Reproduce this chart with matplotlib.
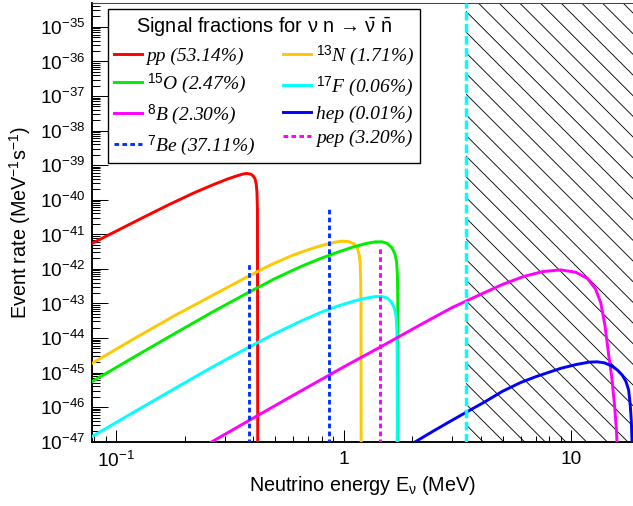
import numpy as np
import matplotlib
matplotlib.use("Agg")
import matplotlib.pyplot as plt
from matplotlib.font_manager import FontProperties
from matplotlib.ticker import LogLocator, FixedLocator, FixedFormatter, NullFormatter

# values: energy in MeV, rate in MeV^-1 s^-1
pp_E = [0.0785, 0.10, 0.13, 0.17, 0.22, 0.27, 0.31, 0.34, 0.36, 0.375, 0.39,
        0.40, 0.408, 0.413, 0.416, 0.418, 0.4195]
pp_R = [5.5e-42, 1.23e-41, 2.95e-41, 7.1e-41, 1.58e-40, 2.8e-40, 4.0e-40, 4.9e-40,
        5.5e-40, 5.75e-40, 5.5e-40, 4.9e-40, 4.0e-40, 2.8e-40, 1.6e-40, 5e-41, 1e-49]

n13_E = [0.0785, 0.12, 0.18, 0.27, 0.38, 0.48, 0.60, 0.75, 0.87, 0.97, 1.05, 1.11,
         1.15, 1.172, 1.182, 1.188, 1.192, 1.195]
n13_R = [1.86e-45, 9.55e-45, 4.37e-44, 1.82e-43, 6.03e-43, 1.32e-42, 2.51e-42, 4.17e-42,
         5.5e-42, 6.31e-42, 6.17e-42, 5.25e-42, 3.98e-42, 2.4e-42, 1.41e-42, 5.0e-43,
         1.0e-43, 1e-49]

o15_E = [0.0785, 0.12, 0.18, 0.27, 0.38, 0.50, 0.65, 0.80, 0.95, 1.10, 1.25, 1.38,
         1.48, 1.56, 1.63, 1.68, 1.71, 1.724, 1.73, 1.733]
o15_R = [5.5e-46, 2.82e-45, 1.32e-44, 6.03e-44, 2.04e-43, 5.25e-43, 1.17e-42, 2.04e-42,
         3.09e-42, 4.27e-42, 5.37e-42, 6.03e-42, 6.03e-42, 5.37e-42, 4.07e-42, 2.75e-42,
         1.58e-42, 6.3e-43, 1.26e-43, 1e-49]

f17_E = [0.0785, 0.12, 0.18, 0.27, 0.38, 0.50, 0.65, 0.80, 0.95, 1.10, 1.25, 1.38,
         1.48, 1.56, 1.62, 1.67, 1.70, 1.713, 1.719, 1.722]
f17_R = [1.41e-47, 7.24e-47, 3.39e-46, 1.55e-45, 5.25e-45, 1.35e-44, 3.09e-44, 5.62e-44,
         8.51e-44, 1.15e-43, 1.41e-43, 1.58e-43, 1.58e-43, 1.41e-43, 1.10e-43, 7.41e-44,
         4.37e-44, 1.78e-44, 3.98e-45, 1e-49]

b8_E = [0.25, 0.40, 0.65, 1.0, 1.5, 2.2, 3.0, 4.0, 5.0, 6.2, 7.5, 9.0, 10.5, 11.8,
        12.8, 13.5, 14.1, 14.6, 15.1, 15.5, 15.8, 16.0]
b8_R = [8.13e-48, 4.79e-47, 2.95e-46, 1.45e-45, 6.17e-45, 2.51e-44, 7.59e-44, 1.82e-43,
        3.55e-43, 6.03e-43, 8.32e-43, 9.33e-43, 7.94e-43, 5.25e-43, 2.63e-43, 1.05e-43,
        2.24e-44, 3.55e-45, 7.08e-46, 1.26e-46, 2.51e-47, 5.0e-48]

hep_E = [2.0, 2.5, 3.0, 3.5, 4.2, 5.0, 6.0, 7.0, 8.0, 9.0, 10.5, 12.0, 13.0, 14.0,
         15.0, 16.0, 16.8, 17.4, 17.9, 18.2, 18.4, 18.55]
hep_R = [8.71e-48, 2.09e-47, 4.17e-47, 7.41e-47, 1.45e-46, 2.88e-46, 5.13e-46, 7.59e-46,
         1.02e-45, 1.32e-45, 1.70e-45, 2.0e-45, 2.04e-45, 1.91e-45, 1.58e-45, 1.17e-45,
         8.32e-46, 5.62e-46, 3.16e-46, 1.15e-46, 3.98e-47, 7.94e-48]

# mono-energetic lines
be7_E = [0.384, 0.862]
be7_R = [1.5e-42, 5.7e-41]
pep_E = [1.442]
pep_R = [4.4e-42]

threshold_E = 3.46

fractions = {"pp": 53.14, "15O": 2.47, "8B": 2.30, "7Be": 37.11,
             "13N": 1.71, "17F": 0.06, "hep": 0.01, "pep": 3.20}

xticks = [0.1, 1, 10]
xtick_labels = [r"$\mathdefault{10^{-1}}$", "1", "10"]
yticks = [10.0 ** k for k in range(-47, -34)]

# ---- style
plt.rcParams["font.family"] = ["Liberation Sans", "DejaVu Sans"]
plt.rcParams["mathtext.fontset"] = "custom"
plt.rcParams["mathtext.rm"] = "Liberation Sans"
plt.rcParams["mathtext.it"] = "Liberation Serif:italic"
plt.rcParams["hatch.linewidth"] = 0.5
plt.rcParams["lines.scale_dashes"] = False

DPI = 124
fig = plt.figure(figsize=(633.3 / DPI, 506.3 / DPI), dpi=DPI)
ax = fig.add_axes([92 / 633, (506 - 441.7) / 506, (633 - 92) / 633, (441.7 - 3) / 506])
ax.set_xscale("log")
ax.set_yscale("log")
xmin, xmax = 0.07835, 18.77
ax.set_xlim(xmin, xmax)
ax.set_ylim(1e-47, 5e-35)

# hatched region above threshold
ax.axvspan(threshold_E, xmax, facecolor="none", edgecolor="k", hatch="\\\\", lw=0, zorder=1)

lw = 1.7
h_pp, = ax.plot(pp_E, pp_R, color="#ff0000", lw=lw, zorder=3,
                label="pp (%.2f%%)" % fractions["pp"])
h_n13, = ax.plot(n13_E, n13_R, color="#ffc800", lw=lw, zorder=3,
                 label=r"$^{\mathit{13}}$N (%.2f%%)" % fractions["13N"])
h_o15, = ax.plot(o15_E, o15_R, color="#00ee00", lw=lw, zorder=3,
                 label=r"$^{\mathit{15}}$O (%.2f%%)" % fractions["15O"])
h_f17, = ax.plot(f17_E, f17_R, color="#00ffff", lw=lw, zorder=3,
                 label=r"$^{\mathit{17}}$F (%.2f%%)" % fractions["17F"])
h_b8, = ax.plot(b8_E, b8_R, color="#ff00ff", lw=lw, zorder=3,
                label=r"$^{\mathit{8}}$B (%.2f%%)" % fractions["8B"])
h_hep, = ax.plot(hep_E, hep_R, color="#0000ff", lw=lw, zorder=3,
                 label="hep (%.2f%%)" % fractions["hep"])

dash = (0, (2.7, 1.9))
h_be7 = ax.vlines(be7_E, 1e-49, be7_R, colors="#0033ff", lw=lw, linestyles=dash, zorder=3,
                  label=r"$^{\mathit{7}}$Be (%.2f%%)" % fractions["7Be"])
h_pep = ax.vlines(pep_E, 1e-49, pep_R, colors="#ff00ff", lw=lw, linestyles=dash, zorder=3,
                  label="pep (%.2f%%)" % fractions["pep"])

ax.axvline(threshold_E, color="#00ffff", lw=2.0, ls=(0, (5.0, 2.0)), zorder=4)

# ---- axes
ax.xaxis.set_major_locator(FixedLocator(xticks))
ax.xaxis.set_major_formatter(FixedFormatter(xtick_labels))
ax.xaxis.set_minor_locator(LogLocator(base=10, subs=np.arange(2, 10), numticks=50))
ax.xaxis.set_minor_formatter(NullFormatter())
ax.yaxis.set_major_locator(FixedLocator(yticks))
ax.yaxis.set_minor_locator(LogLocator(base=10, subs=np.arange(2, 10), numticks=300))
ax.yaxis.set_minor_formatter(NullFormatter())

ax.tick_params(which="both", direction="in", top=False, right=False, width=0.6,
               labelsize=11)
ax.tick_params(axis="y", which="major", length=9.3, pad=4)
ax.tick_params(axis="y", which="minor", length=4.6)
ax.tick_params(axis="x", which="major", length=7, pad=5)
ax.tick_params(axis="x", which="minor", length=3.5)

for s in ["left", "bottom"]:
    ax.spines[s].set_linewidth(1.1)
ax.spines["top"].set_linewidth(0.6)
ax.spines["top"].set_color("#444444")
ax.spines["right"].set_visible(False)

ax.set_xlabel(r"Neutrino energy E$_{\mathrm{\nu}}$ (MeV)", fontsize=11.5, va="center")
ax.set_ylabel(r"Event rate (MeV$^{-1}$s$^{-1}$)", fontsize=11.5, va="center")
ax.xaxis.set_label_coords(0.5, -0.0987)
ax.yaxis.set_label_coords(-0.133, 0.5)

title = r"Signal fractions for ν n → $\bar{\mathrm{\nu}}$ $\bar{\mathrm{n}}$"
leg = ax.legend(handles=[h_pp, h_o15, h_b8, h_be7, h_n13, h_f17, h_hep, h_pep],
                ncol=2, loc="upper left", bbox_to_anchor=(0.0296, 0.986),
                borderaxespad=0,
                prop=FontProperties(family="Liberation Serif", style="italic", size=11.3),
                title=title,
                title_fontproperties=FontProperties(family=["Liberation Sans", "DejaVu Sans"],
                                                    size=11.6),
                frameon=True, fancybox=False, edgecolor="k", framealpha=1,
                handlelength=1.44, handletextpad=0.26, columnspacing=1.44,
                labelspacing=0.33, borderpad=0.28)
leg.get_frame().set_linewidth(0.8)
leg.set_zorder(10)

fig.savefig("out.png", dpi=DPI)
